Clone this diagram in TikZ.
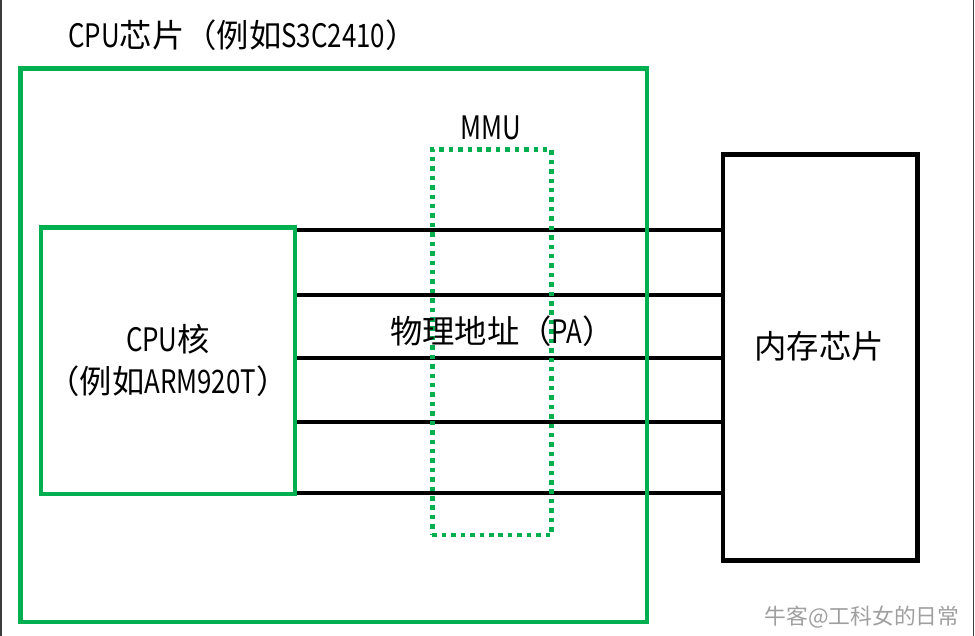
\documentclass[tikz,border=0pt]{standalone}
\usepackage{fontspec}
\setmainfont{Noto Sans CJK SC}
\newfontfamily\latin[FakeStretch=0.8]{Noto Sans CJK SC}
\definecolor{chipgreen}{RGB}{0,176,80}
\definecolor{edgegray}{RGB}{60,60,60}
\tikzset{
  chipbox/.style={draw=chipgreen, line width=3.1pt},
  mmubox/.style={draw=chipgreen, line width=3.2pt, dash pattern=on 3.2pt off 3.5pt},
  membox/.style={draw=black, line width=3.4pt},
  busline/.style={draw=black, line width=3.2pt},
  chiptext/.style={font=\fontsize{23pt}{30pt}\selectfont, inner sep=0pt},
}
\begin{document}
\begin{tikzpicture}[x=0.025cm, y=-0.025cm]
        \useasboundingbox (0,0) rectangle (975,636);
        \draw[edgegray, line width=1.2pt] (1,0) -- (1,636);
        \draw[edgegray, line width=1.2pt] (973.5,0) -- (973.5,636);

        \node[membox, minimum width=4.86cm, minimum height=10.15cm] (Mem) at (820.25,357.5) {};
        \node[chipbox, chiptext, align=center, minimum width=6.35cm, minimum height=6.66cm] (Core) at (168,360.75) {{\latin CPU}核\\（例如{\latin ARM920T}）};

        \draw[busline] (Core.east |- 0,230) -- (Mem.west |- 0,230);
        \draw[busline] (Core.east |- 0,295) -- (Mem.west |- 0,295);
        \draw[busline] (Core.east |- 0,358) -- (Mem.west |- 0,358);
        \draw[busline] (Core.east |- 0,422) -- (Mem.west |- 0,422);
        \draw[busline] (Core.east |- 0,493) -- (Mem.west |- 0,493);

        \node[chipbox, minimum width=15.66cm, minimum height=13.84cm] (Chip) at (333.75,345.25) {};
        \node[mmubox, minimum width=2.975cm, minimum height=9.64cm] (MMU) at (492,342.25) {};

        \node[chiptext, anchor=west] (ChipTitle) at (68,35) {{\latin CPU}芯片（例如{\latin S3C2410}）};
        \node[chiptext] (MMUTitle) at (491,128) {\latin MMU};
        \node[chiptext, anchor=west] (PA) at (390,331) {物理地址（{\latin PA}）};
        \node[chiptext] (MemTitle) at (819,346) {内存芯片};
        \node[font=\fontsize{15.5pt}{18pt}\selectfont, text=gray!75, inner sep=0pt] (Mark) at (862,617) {牛客@工科女的日常};
    \end{tikzpicture}
\end{document}
